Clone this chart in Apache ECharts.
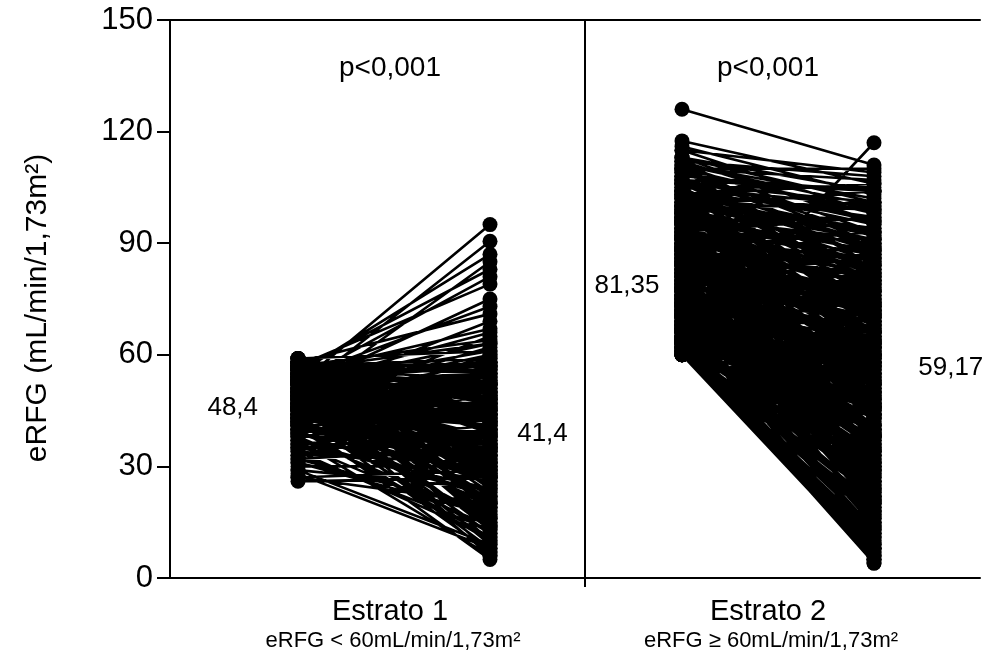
<!DOCTYPE html>
<html>
<head>
<meta charset="utf-8">
<script src="https://cdn.jsdelivr.net/npm/echarts@6/dist/echarts.min.js"></script>
<style>html,body{margin:0;padding:0;background:#fff}#c{width:994px;height:661px}</style>
</head>
<body>
<div id="c"></div>
<script>
// ---- data ----
var categories = ['Estrato 1', 'Estrato 2'];
var subtitles = ['eRFG < 60mL/min/1,73m²', 'eRFG ≥ 60mL/min/1,73m²'];
var pValues = ['p<0,001', 'p<0,001'];
var yTicks = [0, 30, 60, 90, 120, 150];
var yTitle = 'eRFG (mL/min/1,73m²)';
var meansBefore = [48.4, 81.35];
var meansAfter = [41.4, 59.17];
var meanLabels = [['48,4', '41,4'], ['81,35', '59,17']];

var est1Before = [52,50,55,48,56,53,57,51,54,58,49,55,45,57,52,47,59,43,
 56,54,50,58,46,53,57,44,51,55,49,58,42,52,56,47,53,39,59,50,45,55,41,57,48,36,52,54,44,58,49,38,51,56,46,53,40,57,47,33,55,50,43,58,45,52,37,54,48,41,56,35,51,46,59,44,53,39,49,57,42,31,55,47,50,38,54,45,58,36,52,43,48,34,56,40,51,29,46,28,53,44,37,50,42,26,30,32,27,35,54,56,58,55,57,53,
 57,55,53,51,49,47,45,43,41,58,56,54,52,50,48,46,44,42,40,59,57,55,53,51,49,47,45,43,38,36,34,32,58,56,54,52,50,48,46,44,42,40,57,55,53,51,49,47,45,43,41,39,37,35,33,31,29,27,58,56,54,52,50,48,46,
 59,58,57,56,55,54,53,52,51,50,49,48,47,46,45,44,43,42,41,40,59,58,57,56,55,54,53,52,51,50,49,48,47,46,45,44,43,42,41,39];
var est1After = [95,90.5,87,85,83,81,79,75,73,71,69,67,65,64,63,62,61,60,
 58,57,56,55,55,54,53,52,52,51,50,50,49,48,48,47,46,46,45,45,44,43,43,42,42,41,40,40,39,39,38,38,37,36,36,35,35,34,34,33,33,32,31,31,30,30,29,28,28,27,27,26,25,25,24,23,22,22,21,20,20,19,19,18,17,16,16,15,14,14,13,12,12,11,10,10,9,9,8,8,7,7,6,6,5,27,30,35,29,40,52,47,57,44,59,50,
 45,47,44,49,41,53,38,50,36,33,58,29,55,42,26,51,34,46,31,40,23,56,37,48,28,43,59,32,45,24,30,18,52,39,21,61,35,14,44,27,49,11,47,57,20,38,54,25,41,16,33,29,22,36,13,17,24,20,15,63,42,66,31,58,19,
 35,48,27,52,40,31,57,44,37,54,29,50,42,33,56,39,46,28,53,38,43,30,55,47,36,58,26,45,51,34,60,41,49,32,44,57,35,52,27,48];

var est2Before = [126,117.5,116,115,113,62,112,111,110,109,108,107,106,105,104,103,102,101,100,99,98,97,96,95,94,93,92,91,90,89,88,87,86,85,84,83,82,81,80,79,78,77,76,75,74,73,72,71,70,69,68,67,66,65,64,63,62,61,60,
 112,108,104,99,96,93,91,89,87,85,83,81,79,77,75,73,71,69,67,65,63,61,
 110,106,102,98,95,92,90,88,86,84,82,80,78,76,74,72,70,68,66,64,62,60,
 109,105,101,97,94,91,88,86,84,82,80,78,76,74,72,70,68,66,64,62,61,60,
 107,103,100,96,93,90,87,85,83,81,79,77,75,73,71,69,67,65,63,61,60,62,
 111,106,102,98,95,92,89,87,85,83,81,79,77,75,73,71,69,67,65,63,61,60,
 104,100,97,94,91,88,86,84,82,80,78,76,74,72,70,68,66,64,62,61,60,63,
 66,68,70,72,74,76,78,80,82,84,86,88,90,92,94,96,98,100,103,106,
 65,67,69,71,73,75,77,79,81,83,85,87,89,91,93,95,97,99,101,103,105,107,
 64,66,68,70,72,74,76,78,80,62,63,65,67,69,71,73,75,60,61,64,
 60,61,62,63,64,65,66,67,68,69,70,71,72,73,74,75,76,77,78,79,
 80,81,82,83,84,85,86,87,88,89,90,91,92,93,94,95,96,97,98,99,
 60,62,64,66,68,70,72,74,76,78,80,82,84,86,88,90,92,94,96,98,
 61,63,65,67,69,71,73,75,77,79,81,83,85,87,89,91,93,95,97,99,
 100,101,102,103,104,105,106,107,108,109,110,111,112,113,100,102,104,106,108,110,
 60,63,66,69,72,75,78,81,84,87,90,93,96,99,61,64,67,70,73,76,
 79,82,85,88,91,94,97,100,103,62,65,68,71,74,77,80,83,86,89,92,
 95,98,101,104,107,110,113,115,60,64,68,72,76,80,84,88,92,96,100,104];
var est2After = [111,106,103,98,95,117,108,100,110,92,104,96,90,105,88,99,85,94,83,101,80,91,78,87,76,97,74,84,72,93,70,81,68,89,66,79,64,86,62,77,60,82,58,74,56,71,54,80,52,69,50,75,48,66,46,72,44,63,42,
 84,63,71,58,66,49,61,54,45,57,40,52,47,38,50,35,43,31,39,27,33,22,
 77,59,68,53,62,44,57,37,50,33,46,29,41,26,37,23,32,19,28,16,24,12,
 88,80,76,70,64,59,55,60,51,56,48,53,44,49,40,45,36,41,30,35,18,8,
 72,65,60,55,52,48,42,38,36,34,30,27,24,21,18,15,12,10,8,6,5,4,
 93,86,79,73,69,65,62,58,55,53,50,46,44,41,39,36,34,31,29,26,20,14,
 97,91,85,81,77,73,71,67,63,59,57,54,52,48,46,43,38,34,29,25,16,11,
 7,9,13,17,20,22,25,28,31,34,39,43,47,51,56,60,64,68,74,82,
 62,58,64,60,66,63,67,70,72,75,78,82,79,86,83,90,94,96,99,106,100,104,
 5,6,9,11,14,17,19,21,24,7,4,10,13,15,18,21,23,6,5,8,
 26,12,38,20,45,9,33,52,15,41,27,58,18,48,36,11,55,30,44,22,
 62,35,70,50,28,66,45,75,40,58,68,32,80,55,47,72,38,88,61,77,
 30,17,40,24,53,35,14,47,60,29,43,20,57,38,65,26,52,70,44,84,
 40,56,21,47,60,25,53,67,32,63,41,71,49,30,76,59,69,46,79,89,
 74,87,62,92,80,69,95,86,77,99,90,102,96,104,57,91,83,101,68,98,
 19,31,46,8,50,39,16,54,63,34,73,60,81,66,33,51,23,64,44,57,
 69,61,74,51,66,78,58,82,88,13,37,29,49,31,65,46,73,59,84,71,
 85,75,93,81,89,107,101,109,22,43,61,55,73,38,87,67,91,62,104,93];

// ---- positions (layout) ----
var xPos = [[1.0, 2.5], [4.0, 5.5]];
var xMax = 810 / 128;
var divider = 415 / 128;

function pairLines(before, after, xp) {
  var out = [];
  var n = Math.min(before.length, after.length);
  for (var i = 0; i < n; i++) {
    out.push([xp[0], before[i]]);
    out.push([xp[1], after[i]]);
    out.push('-');
  }
  return out;
}
function pairPoints(before, after, xp) {
  var out = [];
  var n = Math.min(before.length, after.length);
  for (var i = 0; i < n; i++) {
    out.push([xp[0], before[i]]);
    out.push([xp[1], after[i]]);
  }
  return out;
}

var FONT = 'Arial, "Liberation Sans", sans-serif';
var chart = echarts.init(document.getElementById('c'), null, {renderer: 'canvas'});

var meanLabelPos = [[0.49, 2.91], [3.57, 6.10]];
var meanData = [];
for (var k = 0; k < 2; k++) {
  meanData.push({value: [meanLabelPos[k][0], meansBefore[k]], label: {formatter: meanLabels[k][0]}});
  meanData.push({value: [meanLabelPos[k][1], meansAfter[k]], label: {formatter: meanLabels[k][1]}});
}

var option = {
  animation: false,
  backgroundColor: '#fff',
  grid: {left: 170, right: 14, top: 20, bottom: 83},
  xAxis: [{
    type: 'value', min: 0, max: xMax, position: 'bottom',
    axisLine: {show: true, onZero: false, lineStyle: {color: '#000', width: 2}},
    axisTick: {show: true, customValues: [divider], length: 9, inside: false, lineStyle: {color: '#000', width: 2}},
    axisLabel: {show: false}, splitLine: {show: false}
  }, {
    type: 'value', min: 0, max: xMax, position: 'top',
    axisLine: {show: true, onZero: false, lineStyle: {color: '#000', width: 2}},
    axisTick: {show: false}, axisLabel: {show: false}, splitLine: {show: false}
  }],
  yAxis: {
    type: 'value', min: yTicks[0], max: yTicks[yTicks.length - 1], interval: 30,
    axisLine: {show: true, lineStyle: {color: '#000', width: 2}},
    axisTick: {show: true, length: 13, lineStyle: {color: '#000', width: 2}},
    axisLabel: {color: '#000', fontSize: 31, fontFamily: FONT, margin: 17},
    splitLine: {show: false}
  },
  series: [
    {type: 'line', data: pairLines(est1Before, est1After, xPos[0]), showSymbol: false, symbol: 'none',
     lineStyle: {color: '#000', width: 2.6, opacity: 1}, connectNulls: false, silent: true,
     markLine: {silent: true, symbol: 'none', label: {show: false}, lineStyle: {color: '#000', width: 2, type: 'solid', opacity: 1},
       data: [{xAxis: divider}]}},
    {type: 'line', data: pairLines(est2Before, est2After, xPos[1]), showSymbol: false, symbol: 'none',
     lineStyle: {color: '#000', width: 2.6, opacity: 1}, connectNulls: false, silent: true},
    {type: 'scatter', data: pairPoints(est1Before, est1After, xPos[0]), symbolSize: 15,
     itemStyle: {color: '#000', opacity: 1}, silent: true},
    {type: 'scatter', data: pairPoints(est2Before, est2After, xPos[1]), symbolSize: 15,
     itemStyle: {color: '#000', opacity: 1}, silent: true},
    {type: 'scatter', data: meanData, symbolSize: 0, silent: true, itemStyle: {opacity: 1},
     label: {show: true, position: 'inside', offset: [0, 10], color: '#000', opacity: 1, fontSize: 26, fontFamily: FONT}}
  ],
  graphic: [
    {type: 'text', x: 38, y: 308, rotation: Math.PI / 2, style: {text: yTitle, font: '30px ' + FONT, fill: '#000', textAlign: 'center', textVerticalAlign: 'middle'}},
    {type: 'text', x: 390, y: 68, style: {text: pValues[0], font: '28px ' + FONT, fill: '#000', textAlign: 'center', textVerticalAlign: 'middle'}},
    {type: 'text', x: 768, y: 68, style: {text: pValues[1], font: '28px ' + FONT, fill: '#000', textAlign: 'center', textVerticalAlign: 'middle'}},
    {type: 'text', x: 390, y: 612, style: {text: categories[0], font: '29px ' + FONT, fill: '#000', textAlign: 'center', textVerticalAlign: 'middle'}},
    {type: 'text', x: 768, y: 612, style: {text: categories[1], font: '29px ' + FONT, fill: '#000', textAlign: 'center', textVerticalAlign: 'middle'}},
    {type: 'text', x: 393, y: 641, style: {text: subtitles[0], font: '22px ' + FONT, fill: '#000', textAlign: 'center', textVerticalAlign: 'middle'}},
    {type: 'text', x: 771, y: 641, style: {text: subtitles[1], font: '22px ' + FONT, fill: '#000', textAlign: 'center', textVerticalAlign: 'middle'}}
  ]
};
chart.setOption(option);
</script>
</body>
</html>
